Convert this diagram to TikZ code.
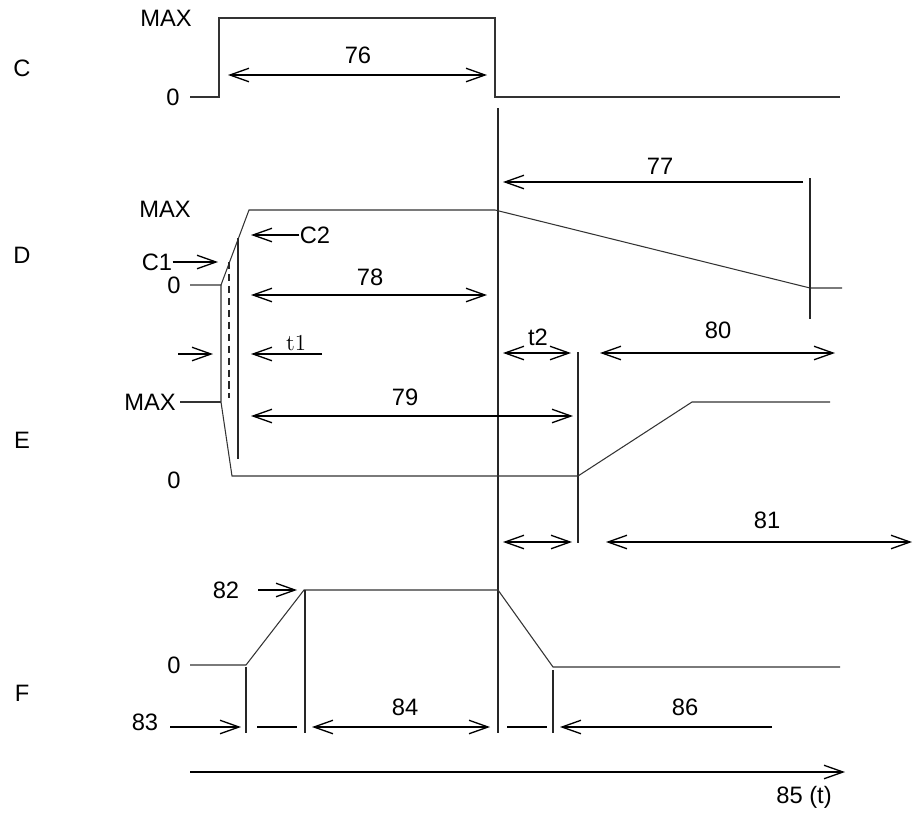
\documentclass[tikz,border=0pt]{standalone}
\usepackage{fontspec}
\setsansfont{Liberation Sans}
\usetikzlibrary{arrows.meta}
\tikzset{
  wave/.style={line width=0.6pt, black!80},
  dim/.style={line width=0.75pt, black},
  mark line/.style={line width=0.6pt, black!85},
  lbl/.style={font=\sffamily\fontsize{13.5}{16}\selectfont, inner sep=0pt},
  >={Straight Barb[length=0.38cm,width=0.27cm]}
}
\begin{document}
\begin{tikzpicture}[x=0.02cm, y=-0.02cm]
  \useasboundingbox (0,0) rectangle (913,812);

  % row names
  \node[lbl] (rowC) at (22,68) {C};
  \node[lbl] (rowD) at (22,255) {D};
  \node[lbl] (rowE) at (22,440) {E};
  \node[lbl] (rowF) at (22,693) {F};

  % C
  \node[lbl] (cmax) at (166,18) {MAX};
  \node[lbl] (czero) at (173,97) {0};
  \draw[wave] (190,97) -- (219,97) -- (219,18) -- (495,18) -- (495,97) -- (840,97);
  \coordinate (a76l) at (228,75);
  \coordinate (a76r) at (487,75);
  \draw[dim,<->] (a76l) -- (a76r);
  \node[lbl] (n76) at (358,55) {76};

  % common time mark
  \coordinate (mtop) at (498,108);
  \coordinate (mbot) at (498,733);
  \draw[mark line] (mtop) -- (mbot);

  % D
  \node[lbl] (dmax) at (165,209) {MAX};
  \node[lbl] (dzero) at (174,285) {0};
  \draw[wave] (190,285) -- (221,285) -- (249,210) -- (495,210) -- (810,288) -- (842,288);
  \coordinate (m77top) at (810,178);
  \coordinate (m77bot) at (810,319);
  \draw[mark line] (m77top) -- (m77bot);
  \coordinate (a77l) at (503,182);
  \coordinate (a77r) at (803,182);
  \draw[dim,->] (a77r) -- (a77l);
  \node[lbl] (n77) at (660,166) {77};

  % C1, C2
  \node[lbl] (c1) at (157,262) {C1};
  \coordinate (c1tip) at (218,262);
  \draw[dim,->] (c1.east) -- (c1tip);
  \node[lbl] (c2) at (315,235) {C2};
  \coordinate (c2tip) at (251,235);
  \draw[dim,->] (c2.west) -- (c2tip);
  \draw[mark line, dash pattern=on 4pt off 2.8pt] (229,262) -- (229,398);
  \draw[mark line] (238,238) -- (238,459);

  % 78
  \coordinate (a78l) at (251,295);
  \coordinate (a78r) at (487,295);
  \draw[dim,<->] (a78l) -- (a78r);
  \node[lbl] (n78) at (370,277) {78};

  % t1
  \coordinate (t1a) at (178,354);
  \coordinate (t1b) at (213,354);
  \draw[dim,->] (t1a) -- (t1b);
  \coordinate (t1c) at (322,354);
  \coordinate (t1d) at (251,354);
  \draw[dim,->] (t1c) -- (t1d);
  \node[font=\rmfamily\fontsize{13}{15}\selectfont, inner sep=0pt] (t1) at (296,343) {t1};

  % 79
  \coordinate (a79l) at (251,416);
  \coordinate (a79r) at (573,416);
  \draw[dim,<->] (a79l) -- (a79r);
  \node[lbl] (n79) at (405,397) {79};

  % t2
  \coordinate (t2l) at (503,353);
  \coordinate (t2r) at (571,353);
  \draw[dim,<->] (t2l) -- (t2r);
  \node[lbl] (t2) at (538,337) {t2};
  \draw[mark line] (578,352) -- (578,543);

  % 80
  \coordinate (a80l) at (600,353);
  \coordinate (a80r) at (835,353);
  \draw[dim,<->] (a80l) -- (a80r);
  \node[lbl] (n80) at (718,330) {80};

  % E
  \node[lbl] (emax) at (150,402) {MAX};
  \node[lbl] (ezero) at (174,480) {0};
  \draw[wave] (180,402) -- (221,402);
  \draw[wave] (221,285) -- (221,402) -- (232,476) -- (578,476) -- (692,402) -- (830,402);

  % 81
  \coordinate (a81a) at (503,542);
  \coordinate (a81b) at (572,542);
  \draw[dim,<->] (a81a) -- (a81b);
  \coordinate (a81l) at (606,542);
  \coordinate (a81r) at (912,542);
  \draw[dim,<->] (a81l) -- (a81r);
  \node[lbl] (n81) at (767,520) {81};

  % F
  \node[lbl] (fzero) at (174,665) {0};
  \draw[wave] (190,665) -- (246,665) -- (304,590) -- (498,590) -- (553,667) -- (840,667);
  \draw[mark line] (246,667) -- (246,733);
  \draw[mark line] (305,590) -- (305,733);
  \draw[mark line] (553,670) -- (553,733);

  % 82
  \node[lbl] (n82) at (226,590) {82};
  \coordinate (a82a) at (258,590);
  \coordinate (a82b) at (297,590);
  \draw[dim,->] (a82a) -- (a82b);

  % 83, 84, 86
  \node[lbl] (n83) at (145,722) {83};
  \coordinate (a83a) at (170,727);
  \coordinate (a83b) at (241,727);
  \draw[dim,->] (a83a) -- (a83b);
  \draw[dim] (257,727) -- (297,727);
  \coordinate (a84l) at (312,727);
  \coordinate (a84r) at (490,727);
  \draw[dim,<->] (a84l) -- (a84r);
  \node[lbl] (n84) at (405,707) {84};
  \draw[dim] (507,727) -- (547,727);
  \coordinate (a86a) at (772,727);
  \coordinate (a86b) at (560,727);
  \draw[dim,->] (a86a) -- (a86b);
  \node[lbl] (n86) at (685,707) {86};

  % 85
  \coordinate (a85a) at (190,772);
  \coordinate (a85b) at (845,772);
  \draw[dim,->] (a85a) -- (a85b);
  \node[lbl] (n85) at (804,797) {85 (t)};
\end{tikzpicture}
\end{document}
